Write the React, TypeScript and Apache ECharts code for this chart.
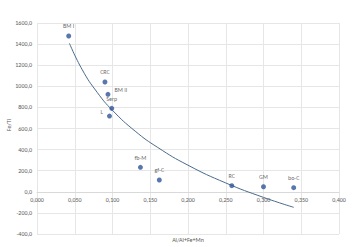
import React, { useEffect, useRef } from "react";
import * as echarts from "echarts";

const names = ["BM I", "CRC", "BM II", "Serp", "L", "fb-M", "gf-C", "RC", "GM", "bo-C"];
const xValues = [0.042, 0.09, 0.094, 0.099, 0.096, 0.137, 0.162, 0.258, 0.3, 0.34];
const yValues = [1477, 1041, 924, 791, 718, 232, 112, 58, 48, 39];
const trendX = [0.043, 0.06, 0.08, 0.1, 0.13, 0.16, 0.2, 0.25, 0.3, 0.34];
const trendY = [1407, 1156, 940, 772, 575, 420, 252, 84, -53, -147];

const labelOffsets: Record<string, [number, number]> = {
  "BM II": [6, 4],
  L: [-6, 4],
};

const GRID_TOP = 23;
const GRID_BOTTOM = 13;
const Y_MIN = -400;
const Y_MAX = 1600;

export default function App() {
  const ref = useRef<HTMLDivElement>(null);
  useEffect(() => {
    if (!ref.current) return;
    const chart = echarts.init(ref.current, null, { renderer: "svg" });
    const font = "Calibri, 'Liberation Sans', Arial, sans-serif";
    const plotH = 247 - GRID_TOP - GRID_BOTTOM;
    const zeroOffset = -(plotH * (0 - Y_MIN)) / (Y_MAX - Y_MIN);
    chart.setOption({
      animation: false,
      grid: { left: 37, right: 14, top: GRID_TOP, bottom: GRID_BOTTOM },
      xAxis: {
        type: "value",
        min: 0,
        max: 0.4,
        interval: 0.05,
        position: "bottom",
        offset: zeroOffset,
        axisLine: { show: true, onZero: false, lineStyle: { color: "#d9d9d9" } },
        axisTick: { show: false },
        splitLine: { show: true, lineStyle: { color: "#e6e6e6" } },
        axisLabel: {
          color: "#595959",
          fontSize: 6,
          fontFamily: font,
          margin: 5,
          formatter: (v: number) => v.toFixed(3).replace(".", ","),
        },
      },
      yAxis: {
        type: "value",
        min: Y_MIN,
        max: Y_MAX,
        interval: 200,
        axisLine: { show: false, onZero: false },
        axisTick: { show: false },
        splitLine: { show: true, lineStyle: { color: "#e6e6e6" } },
        axisLabel: {
          color: "#595959",
          fontSize: 6,
          fontFamily: font,
          margin: 5,
          formatter: (v: number) => v.toFixed(1).replace(".", ","),
        },
      },
      graphic: [
        {
          type: "text",
          x: 188,
          y: 240,
          style: {
            text: "Al/Al+Fe+Mn",
            fill: "#595959",
            fontSize: 6,
            fontFamily: font,
            textAlign: "center",
            textVerticalAlign: "middle",
          },
        },
        {
          type: "text",
          x: 9,
          y: 125,
          rotation: Math.PI / 2,
          style: {
            text: "Fe/Ti",
            fill: "#595959",
            fontSize: 6,
            fontFamily: font,
            textAlign: "center",
            textVerticalAlign: "middle",
          },
        },
      ],
      series: [
        {
          type: "line",
          data: trendX.map((x, i) => [x, trendY[i]]),
          smooth: true,
          showSymbol: false,
          symbol: "none",
          lineStyle: { color: "#4a6b8c", width: 1 },
          z: 2,
        },
        {
          type: "scatter",
          symbolSize: 5,
          itemStyle: { color: "#2f5597" },
          z: 3,
          data: names.map((n, i) => {
            const off = labelOffsets[n];
            return {
              name: n,
              value: [xValues[i], yValues[i]],
              label: off
                ? { position: off[0] > 0 ? "right" : "left", offset: [0, -off[1]] }
                : undefined,
            };
          }),
          label: {
            show: true,
            position: "top",
            distance: 4,
            formatter: (p: any) => p.name,
            color: "#404040",
            fontSize: 6,
            fontFamily: font,
          },
        },
      ],
    });
    return () => chart.dispose();
  }, []);
  return (
    <div
      ref={ref}
      style={{ position: "fixed", left: 0, top: 0, width: 353, height: 247, background: "#fff" }}
    />
  );
}
